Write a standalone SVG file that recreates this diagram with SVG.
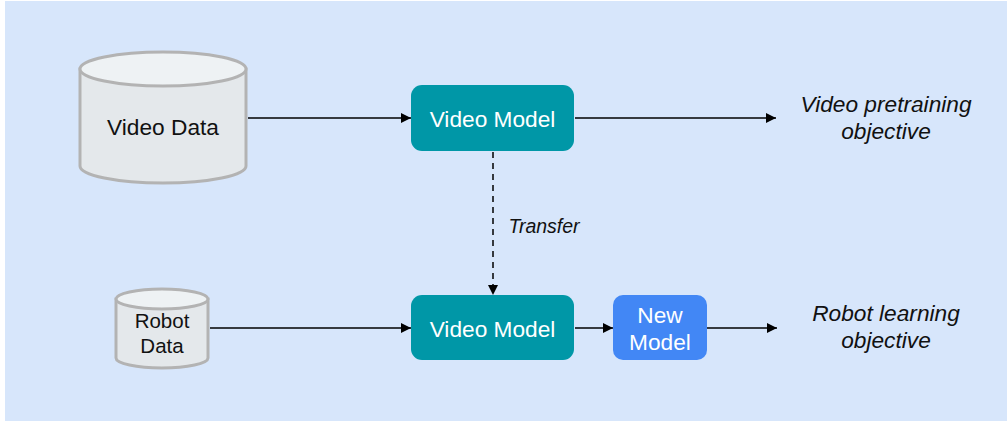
<svg xmlns="http://www.w3.org/2000/svg" width="1007" height="423" viewBox="0 0 1007 423">
<defs>
<style>
.bg{fill:#D7E6FB}
.cylbody{fill:#E4E8EB;stroke:#B3B3B3;stroke-width:3}
.cyltop{fill:#EEF2F4;stroke:#B3B3B3;stroke-width:3}
.teal{fill:#0097A7}
.blue{fill:#4287F5}
.lbl{font-family:"Liberation Sans",Arial,sans-serif;font-size:22.7px;text-anchor:middle}
.dark{fill:#111}
.white{fill:#fff}
.it{font-style:italic}
.conn{stroke:#000;stroke-width:1.5;fill:none}
.dash{stroke-dasharray:6,5}
</style>
<marker id="arr" viewBox="0 0 10 10" refX="10" refY="5" markerWidth="10" markerHeight="10" markerUnits="userSpaceOnUse" orient="auto">
<path d="M0,0 L10,5 L0,10 z" fill="#000"/>
</marker>
</defs>
<rect class="bg" x="5" y="1" width="1002" height="420"/>
<g id="connectors">
<line class="conn" x1="248" y1="118" x2="411" y2="118" marker-end="url(#arr)"/>
<line class="conn" x1="575" y1="118" x2="776" y2="118" marker-end="url(#arr)"/>
<line class="conn dash" x1="493" y1="152" x2="493" y2="295" marker-end="url(#arr)"/>
<line class="conn" x1="210" y1="328" x2="411" y2="328" marker-end="url(#arr)"/>
<line class="conn" x1="575" y1="328" x2="613" y2="328" marker-end="url(#arr)"/>
<line class="conn" x1="707" y1="328" x2="777" y2="328" marker-end="url(#arr)"/>
<text class="lbl dark it" x="544" y="233" style="font-size:19.5px">Transfer</text>
</g>
<g id="video-data">
<path class="cylbody" d="M80,69 L80,166 A83,17 0 0 0 246,166 L246,69 Z"/>
<ellipse class="cyltop" cx="163" cy="69" rx="83" ry="17"/>
<text class="lbl dark" x="163" y="135">Video Data</text>
</g>
<g id="video-model-top">
<rect class="teal" x="411" y="85" width="163" height="66" rx="11"/>
<text class="lbl white" x="492.5" y="127">Video Model</text>
</g>
<g id="objective-top">
<text class="lbl dark it" x="886" y="112">Video pretraining</text>
<text class="lbl dark it" x="886" y="139">objective</text>
</g>
<g id="robot-data">
<path class="cylbody" d="M116,299 L116,358 A46,10 0 0 0 208,358 L208,299 Z"/>
<ellipse class="cyltop" cx="162" cy="299" rx="46" ry="10"/>
<text class="lbl dark" x="162" y="328" style="font-size:20.5px">Robot</text>
<text class="lbl dark" x="162" y="353" style="font-size:20.5px">Data</text>
</g>
<g id="video-model-bottom">
<rect class="teal" x="411" y="295" width="163" height="65" rx="11"/>
<text class="lbl white" x="492.5" y="337">Video Model</text>
</g>
<g id="new-model">
<rect class="blue" x="613" y="295" width="94" height="65" rx="10"/>
<text class="lbl white" x="660" y="323">New</text>
<text class="lbl white" x="660" y="350">Model</text>
</g>
<g id="objective-bottom">
<text class="lbl dark it" x="886" y="321">Robot learning</text>
<text class="lbl dark it" x="886" y="348">objective</text>
</g>
</svg>
